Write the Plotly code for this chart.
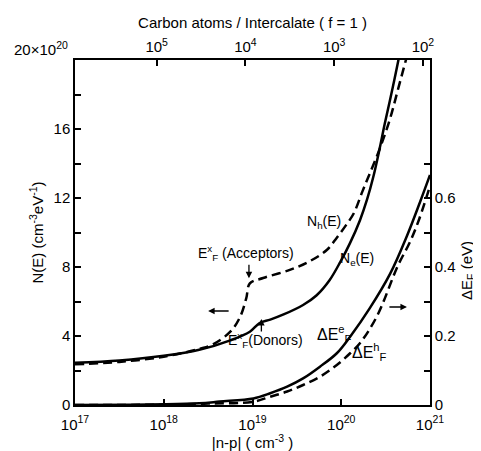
import plotly.graph_objects as go

# |n-p| positions (log10 cm^-3) and N(E) values (units of 1e20 cm^-3 eV^-1)
ne_logx = [17.0, 17.5, 18.0, 18.4, 18.75, 18.97, 19.08, 19.2, 19.35, 19.57, 19.72,
           19.87, 19.99, 20.1, 20.21, 20.29, 20.36, 20.43, 20.49, 20.58, 20.66]
ne_val = [2.45, 2.58, 2.85, 3.2, 3.75, 4.25, 4.75, 4.95, 5.25, 5.8, 6.35,
          7.25, 8.3, 9.4, 10.7, 11.9, 13.2, 14.8, 16.3, 18.4, 20.4]

nh_logx = [17.0, 17.5, 18.0, 18.4, 18.55, 18.75, 18.86, 18.93, 18.97, 19.12, 19.42,
           19.65, 19.84, 19.95, 20.05, 20.14, 20.24, 20.32, 20.43, 20.55, 20.65, 20.76]
nh_val = [2.36, 2.5, 2.8, 3.25, 3.5, 4.25, 5.1, 6.2, 7.05, 7.36, 7.83,
          8.35, 9.0, 9.7, 10.4, 11.1, 12.4, 13.4, 14.8, 16.6, 18.5, 20.6]

# Fermi level shifts (eV)
de_logx = [17.0, 18.0, 18.4, 18.63, 19.01, 19.2, 19.39, 19.57, 19.76, 19.95, 20.1,
           20.32, 20.55, 20.74, 20.89, 21.0]
de_val = [0.0, 0.002, 0.005, 0.01, 0.019, 0.034, 0.053, 0.077, 0.111, 0.15, 0.198,
          0.28, 0.38, 0.49, 0.59, 0.667]

dh_logx = [17.0, 18.0, 18.5, 19.01, 19.2, 19.39, 19.57, 19.76, 19.95, 20.1, 20.21,
           20.4, 20.64, 20.77, 20.88, 21.0]
dh_val = [0.0, 0.001, 0.004, 0.0096, 0.024, 0.039, 0.058, 0.082, 0.116, 0.15, 0.179,
          0.256, 0.405, 0.47, 0.54, 0.635]

x_ticks = [1e17, 1e18, 1e19, 1e20, 1e21]
x_ticktext = ["10<sup>17</sup>", "10<sup>18</sup>", "10<sup>19</sup>", "10<sup>20</sup>", "10<sup>21</sup>"]
top_ticks = [1e5, 1e4, 1e3, 1e2]
top_ticktext = ["10<sup>5</sup>", "10<sup>4</sup>", "10<sup>3</sup>", "10<sup>2</sup>"]
y_ticks = [0, 2, 4, 6, 8, 10, 12, 14, 16, 18, 20]
y_ticktext = ["0", "", "4", "", "8", "", "12", "", "16", "", ""]
y2_ticks = [0, 0.1, 0.2, 0.3, 0.4, 0.5, 0.6, 0.7]
y2_ticktext = ["0", "", "0.2", "", "0.4", "", "0.6", ""]

# top axis offset: log10(carbon atoms) = TOP_K - log10|n-p|
TOP_K = 22.92

def p10(v):
    return [10 ** a for a in v]

FONT = "Liberation Sans"
fig = go.Figure()
fig.add_trace(go.Scatter(x=p10(ne_logx), y=ne_val, mode="lines", line=dict(color="black", width=2.5),
                         line_shape="spline", hoverinfo="skip", showlegend=False))
fig.add_trace(go.Scatter(x=p10(nh_logx), y=nh_val, mode="lines", line=dict(color="black", width=2.5, dash="9px,5px"),
                         line_shape="spline", hoverinfo="skip", showlegend=False))
fig.add_trace(go.Scatter(x=p10(de_logx), y=de_val, mode="lines", yaxis="y2", line=dict(color="black", width=2.5),
                         line_shape="spline", hoverinfo="skip", showlegend=False))
fig.add_trace(go.Scatter(x=p10(dh_logx), y=dh_val, mode="lines", yaxis="y2", line=dict(color="black", width=2.5, dash="9px,5px"),
                         line_shape="spline", hoverinfo="skip", showlegend=False))
# dummy trace to activate top axis
fig.add_trace(go.Scatter(x=[1e3], y=[10], xaxis="x2", mode="markers", marker=dict(opacity=0),
                         hoverinfo="skip", showlegend=False))

axis_common = dict(showgrid=False, zeroline=False, showline=True, linecolor="black", linewidth=1.5,
                   ticks="inside", ticklen=6, tickwidth=1.5, tickcolor="black",
                   tickfont=dict(family=FONT, size=15, color="black"))

# page body has an 8px margin; size the figure so the plot area lands where the reference has it
fig.update_layout(
    width=473, height=443,
    margin=dict(l=67, r=51, t=52, b=46),
    plot_bgcolor="white", paper_bgcolor="white",
    font=dict(family=FONT, size=14, color="black"),
    xaxis=dict(type="log", range=[17, 21], tickmode="array", tickvals=x_ticks, ticktext=x_ticktext,
               ticklabelstandoff=5,
               title=dict(text="|n-p| ( cm<sup>-3</sup> )", font=dict(family=FONT, size=15), standoff=1),
               automargin=False, **axis_common),
    xaxis2=dict(type="log", overlaying="x", side="top", range=[TOP_K - 17, TOP_K - 21], tickmode="array",
                tickvals=top_ticks, ticktext=top_ticktext,
                title=dict(text="Carbon atoms / Intercalate ( f = 1 )", font=dict(family=FONT, size=15), standoff=4),
                automargin=False, **axis_common),
    yaxis=dict(range=[0, 20], tickmode="array", tickvals=y_ticks, ticktext=y_ticktext,
               title=dict(text="N(E) (cm<sup>-3</sup>eV<sup>-1</sup>)", font=dict(family=FONT, size=15), standoff=6),
               automargin=False, **axis_common),
    yaxis2=dict(range=[0, 1], overlaying="y", side="right", tickmode="array", tickvals=y2_ticks,
                ticktext=y2_ticktext, automargin=False, **axis_common),
)

ann = []
def label(text, lx, ny, **kw):
    d = dict(text=text, x=lx, y=ny, xref="x", yref="y", showarrow=False,
             xanchor="center", yanchor="middle",
             font=dict(family=FONT, size=14, color="black"))
    d.update(kw)
    ann.append(d)

def arrow(lx, ny, ax, ay):
    ann.append(dict(text="", x=lx, y=ny, xref="x", yref="y", showarrow=True, ax=ax, ay=ay,
                    arrowhead=2, arrowsize=1, arrowwidth=1.3, arrowcolor="black"))

label("20×10<sup>20</sup>", -0.014, 1.032, xref="paper", yref="paper", xanchor="right",
      font=dict(family=FONT, size=15, color="black"))
label("ΔE<sub>F</sub> (eV)", 1.138, 0.39, xref="paper", yref="paper", textangle=-90, xanchor="right",
      font=dict(family=FONT, size=15, color="black"))
label("E<sup>x</sup><sub>F</sub> (Acceptors)", 18.93, 8.81)
arrow(18.96, 7.35, 0, -15)
label("E<sup>x</sup><sub>F</sub>(Donors)", 19.15, 3.77)
arrow(19.10, 4.99, 0, 14)
label("N<sub>h</sub>(E)", 19.81, 10.6)
label("N<sub>e</sub>(E)", 20.18, 8.46)
arrow(18.50, 5.45, 22, 0)
arrow(20.74, 5.68, -19, 0)
label("ΔE<sup>e</sup><sub>F</sub>", 19.92, 4.12, font=dict(family=FONT, size=16, color="black"))
label("ΔE<sup>h</sup><sub>F</sub>", 20.32, 3.07, font=dict(family=FONT, size=16, color="black"))
fig.update_layout(annotations=ann)

fig.write_html("out.html")
